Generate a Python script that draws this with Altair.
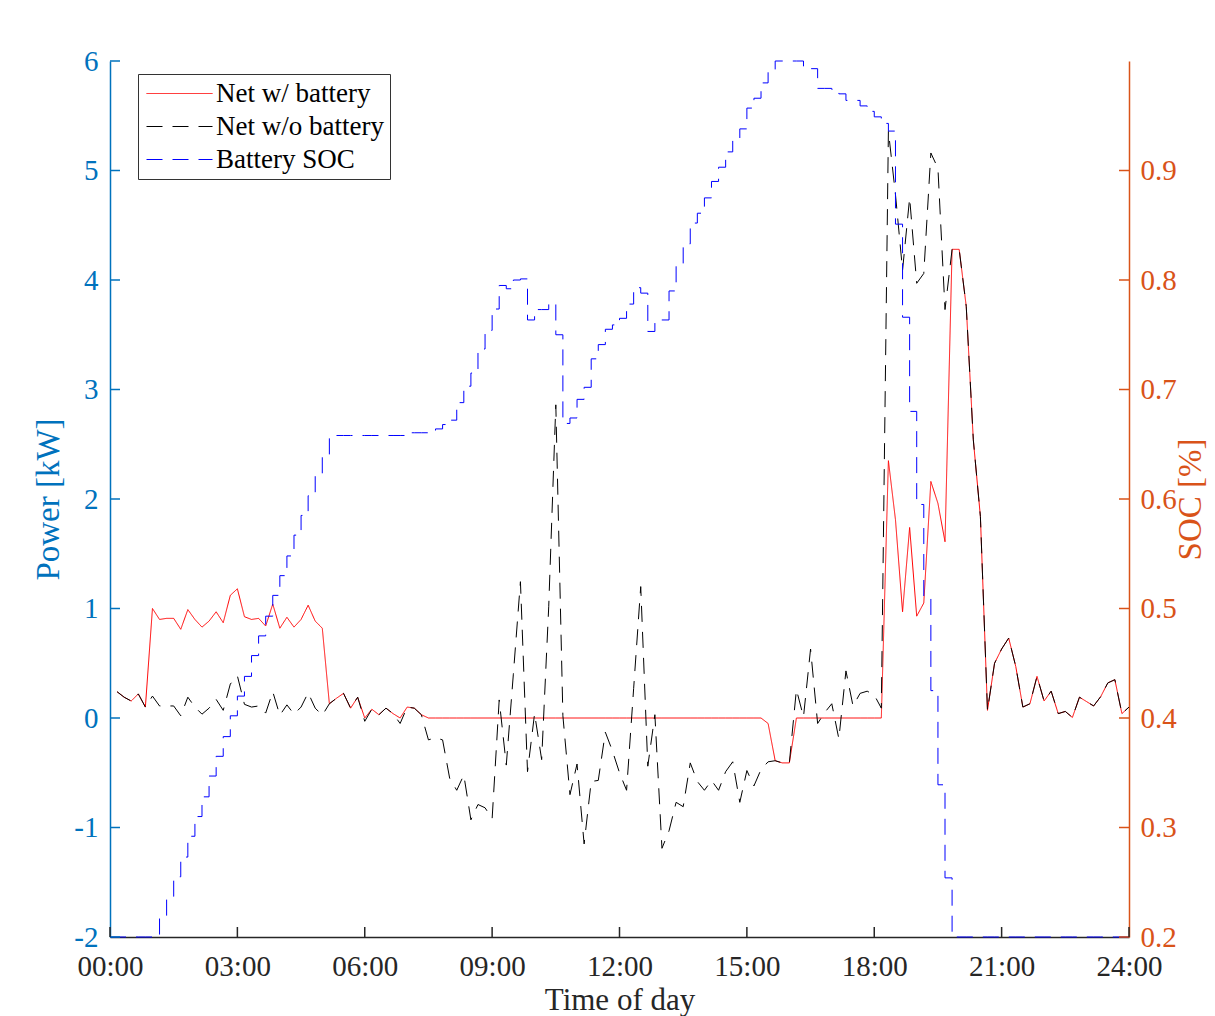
import altair as alt
import pandas as pd

# ---------------- data ----------------
SERIES = ["Net w/ battery", "Net w/o battery", "Battery SOC"]
COLORS = ["#FF0000", "#000000", "#0000FF"]
DASHES = [[1, 0], [16, 10], [16, 10]]

X_TICKS = [0, 3, 6, 9, 12, 15, 18, 21, 24]
P_TICKS = [-2, -1, 0, 1, 2, 3, 4, 5, 6]
SOC_TICKS = [0.2, 0.3, 0.4, 0.5, 0.6, 0.7, 0.8, 0.9]

# 10-minute time grid (minutes after midnight)
MIN_LINES = list(range(10, 1441, 10))   # 00:10 ... 24:00
MIN_SOC = list(range(0, 1441, 10))      # 00:00 ... 24:00

NET_WITHOUT_BATT = [
    0.24, 0.19, 0.155, 0.22, 0.10, 0.20, 0.11, 0.11, 0.11, 0.02,
    0.19, 0.10, 0.035, 0.09, 0.17, 0.07, 0.31, 0.385, 0.125, 0.10,
    0.11, 0.045, 0.24, 0.025, 0.12, 0.035, 0.10, 0.23, 0.09, 0.025,
    0.13, 0.18, 0.225, 0.09, 0.19, -0.03, 0.08, 0.03, 0.09, 0.04,
    -0.05, 0.10, 0.09, 0.03, -0.20, -0.18, -0.20, -0.55, -0.66, -0.52,
    -0.93, -0.79, -0.82, -0.92, 0.165, -0.43, 0.40, 1.245, -0.49, 0.04,
    -0.38, 1.02, 2.86, 0.02, -0.70, -0.42, -1.15, -0.58, -0.57, -0.13,
    -0.30, -0.50, -0.66, 0.27, 1.20, -0.44, 0.03, -1.19, -1.03, -0.77,
    -0.81, -0.41, -0.58, -0.66, -0.57, -0.66, -0.49, -0.40, -0.77, -0.48,
    -0.62, -0.47, -0.40, -0.39, -0.41, -0.41, 0.26, 0.01, 0.63, -0.05,
    0.05, 0.13, -0.19, 0.43, 0.11, 0.225, 0.245, 0.21, 0.09, 5.36,
    4.78, 4.09, 4.75, 3.97, 4.06, 5.16, 5.02, 3.73, 4.28, 4.28,
    3.76, 2.54, 1.84, 0.07, 0.50, 0.63, 0.73, 0.47, 0.10, 0.13,
    0.38, 0.155, 0.245, 0.04, 0.06, 0.005, 0.19, 0.15, 0.11, 0.195,
    0.32, 0.35, 0.04, 0.10,
]

NET_WITH_BATT = [
    0.24, 0.19, 0.155, 0.22, 0.10, 1.00, 0.90, 0.91, 0.91, 0.81,
    0.99, 0.90, 0.83, 0.885, 0.97, 0.87, 1.12, 1.18, 0.925, 0.90,
    0.91, 0.84, 1.04, 0.82, 0.92, 0.83, 0.90, 1.03, 0.885, 0.82,
    0.13, 0.18, 0.225, 0.09, 0.19, 0.0, 0.08, 0.03, 0.09, 0.04,
    0.0, 0.10, 0.09, 0.03, 0.0, 0.0, 0.0, 0.0, 0.0, 0.0,
    0.0, 0.0, 0.0, 0.0, 0.0, 0.0, 0.0, 0.0, 0.0, 0.0,
    0.0, 0.0, 0.0, 0.0, 0.0, 0.0, 0.0, 0.0, 0.0, 0.0,
    0.0, 0.0, 0.0, 0.0, 0.0, 0.0, 0.0, 0.0, 0.0, 0.0,
    0.0, 0.0, 0.0, 0.0, 0.0, 0.0, 0.0, 0.0, 0.0, 0.0,
    0.0, 0.0, -0.05, -0.39, -0.41, -0.41, 0.0, 0.0, 0.0, 0.0,
    0.0, 0.0, 0.0, 0.0, 0.0, 0.0, 0.0, 0.0, 0.0, 2.35,
    1.81, 0.97, 1.74, 0.93, 1.05, 2.16, 1.96, 1.61, 4.28, 4.28,
    3.76, 2.54, 1.84, 0.07, 0.50, 0.63, 0.73, 0.47, 0.10, 0.13,
    0.38, 0.155, 0.245, 0.04, 0.06, 0.005, 0.19, 0.15, 0.11, 0.195,
    0.32, 0.35, 0.04, 0.10,
]

SOC = [
    0.2, 0.2, 0.2, 0.2, 0.2, 0.2, 0.2,
    0.218, 0.237, 0.255, 0.273, 0.292, 0.310, 0.328, 0.347, 0.365, 0.383,
    0.402, 0.420, 0.438, 0.457, 0.475, 0.493, 0.512, 0.530, 0.548, 0.567,
    0.585, 0.603, 0.622, 0.640, 0.658,
    0.658, 0.658, 0.658, 0.658, 0.658, 0.658, 0.658, 0.658, 0.658, 0.658,
    0.6605, 0.6605, 0.6605, 0.6605,
    0.664, 0.668, 0.672, 0.688, 0.703, 0.715, 0.737, 0.754, 0.7735, 0.795,
    0.792, 0.800, 0.801, 0.7635, 0.773, 0.773, 0.779, 0.750, 0.669, 0.674,
    0.691, 0.702, 0.728, 0.741, 0.755, 0.759, 0.765, 0.778, 0.793, 0.788,
    0.753, 0.7635, 0.7635, 0.790, 0.815, 0.833, 0.852, 0.861, 0.875, 0.890,
    0.903, 0.917, 0.929, 0.938, 0.957, 0.966, 0.980, 0.992, 1.0, 1.0,
    1.0, 1.0, 0.993, 0.993, 0.975, 0.975, 0.974, 0.970, 0.964, 0.964,
    0.959, 0.954, 0.949, 0.943, 0.936, 0.851, 0.766, 0.680, 0.595, 0.510,
    0.425, 0.339, 0.254, 0.2,
    0.2, 0.2, 0.2, 0.2, 0.2, 0.2, 0.2, 0.2, 0.2, 0.2,
    0.2, 0.2, 0.2, 0.2, 0.2, 0.2, 0.2, 0.2, 0.2, 0.2,
    0.2, 0.2, 0.2, 0.2, 0.2,
]

# ---------------- styling ----------------
W, H = 1019, 876
FONT = "Liberation Serif"
BLUE_AX = "#0072BD"
ORANGE_AX = "#D95319"
DARK = "#262626"
TICK_FS = 29

df_red = pd.DataFrame({"h": [m / 60 for m in MIN_LINES], "P": NET_WITH_BATT, "series": SERIES[0]})
df_blk = pd.DataFrame({"h": [m / 60 for m in MIN_LINES], "P": NET_WITHOUT_BATT, "series": SERIES[1]})
df_soc = pd.DataFrame({"h": [m / 60 for m in MIN_SOC], "S": SOC, "series": SERIES[2]})

x_scale = alt.Scale(domain=[0, 24], nice=False, zero=False)
p_scale = alt.Scale(domain=[-2, 6], nice=False, zero=False)
s_scale = alt.Scale(domain=[0.2, 1.0], nice=False, zero=False)

leg = alt.Legend(
    title=None, orient="none", legendX=28, legendY=13,
    symbolType="M-1,0H5", symbolSize=484, symbolStrokeWidth=1,
    labelFont=FONT, labelFontSize=27, labelColor="black", labelOffset=45,
    labelLimit=500, rowPadding=5, padding=6,
    strokeColor="#333333", fillColor="white", cornerRadius=0,
)
color = alt.Color("series:N", scale=alt.Scale(domain=SERIES, range=COLORS), legend=leg)
dash = alt.StrokeDash("series:N", scale=alt.Scale(domain=SERIES, range=DASHES), legend=leg)

x_axis = alt.Axis(
    values=X_TICKS,
    labelExpr="(datum.value < 10 ? '0' : '') + datum.value + ':00'",
    ticks=False, tickSize=0, grid=False,
    domainColor=DARK, domainWidth=1.5,
    labelColor=DARK, labelFont=FONT, labelFontSize=TICK_FS, labelPadding=15,
    labelFlush=False, labelOverlap=False,
    title="Time of day", titleFont=FONT, titleFontSize=31, titleFontWeight="normal",
    titleColor=DARK, titleX=W / 2, titleY=72.2, titleBaseline="alphabetic", titleAlign="center",
)
p_axis = alt.Axis(
    orient="left", values=P_TICKS, labelExpr="'' + datum.value",
    ticks=False, tickSize=0, grid=False,
    domainColor=BLUE_AX, domainWidth=1.5,
    labelColor=BLUE_AX, labelFont=FONT, labelFontSize=TICK_FS, labelPadding=12,
    title="Power [kW]", titleFont=FONT, titleFontSize=33, titleFontWeight="normal",
    titleColor=BLUE_AX, titleAngle=270, titleX=-52, titleY=H / 2,
    titleBaseline="alphabetic", titleAlign="center",
)
s_axis = alt.Axis(
    orient="right", values=SOC_TICKS, format=".1f",
    ticks=False, tickSize=0, grid=False,
    domainColor=ORANGE_AX, domainWidth=1.5,
    labelColor=ORANGE_AX, labelFont=FONT, labelFontSize=TICK_FS, labelPadding=11,
    title="SOC [%]", titleFont=FONT, titleFontSize=33, titleFontWeight="normal",
    titleColor=ORANGE_AX, titleAngle=270, titleX=71, titleY=H / 2,
    titleBaseline="alphabetic", titleAlign="center",
)

X = alt.X("h:Q", scale=x_scale, axis=x_axis)

red = alt.Chart(df_red).mark_line(strokeWidth=1).encode(
    x=X, y=alt.Y("P:Q", scale=p_scale, axis=p_axis),
    color=color, strokeDash=dash,
)
blk = alt.Chart(df_blk).mark_line(strokeWidth=1).encode(
    x=X, y=alt.Y("P:Q", scale=p_scale, axis=None),
    color=color, strokeDash=dash,
)
soc = alt.Chart(df_soc).mark_line(strokeWidth=1, interpolate="step-after").encode(
    x=X, y=alt.Y("S:Q", scale=s_scale, axis=s_axis),
    color=color, strokeDash=dash,
)
p_ticks = alt.Chart(pd.DataFrame({"P": P_TICKS})).mark_rule(color=BLUE_AX, strokeWidth=1.5).encode(
    y=alt.Y("P:Q", scale=p_scale, axis=None), x=alt.value(0), x2=alt.value(10),
)
s_ticks = alt.Chart(pd.DataFrame({"S": SOC_TICKS})).mark_rule(color=ORANGE_AX, strokeWidth=1.5).encode(
    y=alt.Y("S:Q", scale=s_scale, axis=None), x=alt.value(W - 10), x2=alt.value(W),
)
x_ticks = alt.Chart(pd.DataFrame({"h": X_TICKS})).mark_rule(color=DARK, strokeWidth=1.5).encode(
    x=X, y=alt.value(H), y2=alt.value(H - 10),
)

chart = (
    alt.layer(red, blk, soc, p_ticks, s_ticks, x_ticks)
    .resolve_scale(y="independent")
    .properties(
        width=W, height=H,
        autosize=alt.AutoSizeParams(type="none"),
        padding={"left": 102, "top": 53, "right": 78, "bottom": 93},
        background="white",
    )
    .configure_view(stroke="transparent")
)

chart.save("out.html", embed_options={"renderer": "svg", "actions": False})
